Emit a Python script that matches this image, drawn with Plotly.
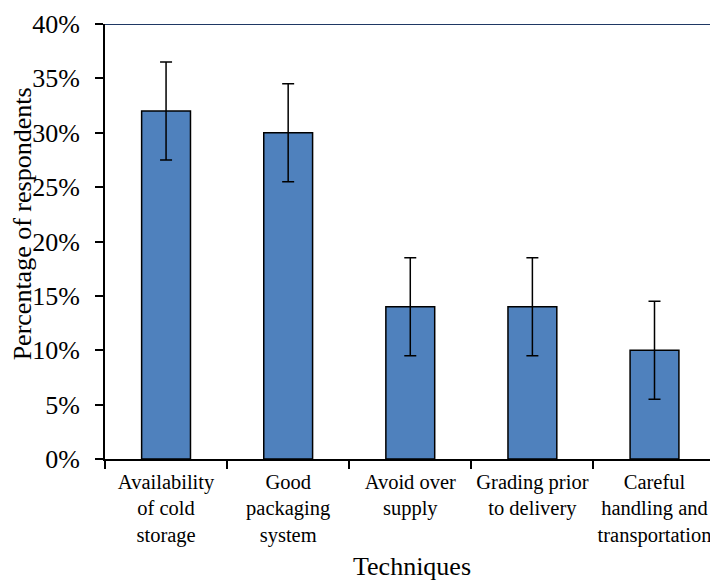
import plotly.graph_objects as go

categories = ["Availability<br>of cold<br>storage", "Good<br>packaging<br>system",
              "Avoid over<br>supply", "Grading prior<br>to delivery",
              "Careful<br>handling and<br>transportation"]
values = [32, 30, 14, 14, 10]
errors = [4.5, 4.5, 4.5, 4.5, 4.5]
y_ticks = [0, 5, 10, 15, 20, 25, 30, 35, 40]
y_tick_labels = [f"{v}%" for v in y_ticks]

FONT = "Liberation Serif, Times New Roman, serif"

fig = go.Figure()
fig.add_trace(go.Bar(
    x=categories, y=values, width=0.4,
    marker=dict(color="#4F81BD", line=dict(color="#000000", width=1.5)),
    error_y=dict(type="data", array=errors, visible=True, color="#000000",
                 thickness=1.5, width=6),
))

fig.add_shape(type="line", xref="paper", yref="y", x0=0, x1=1, y0=40, y1=40,
              line=dict(color="#1F3864", width=2))

fig.update_layout(
    width=710, height=572,
    margin=dict(l=97, r=0, t=16, b=121),
    plot_bgcolor="white", paper_bgcolor="white",
    font=dict(family=FONT, color="#000000"),
    showlegend=False,
    xaxis=dict(
        range=[-0.5, 4.52], automargin=False,
        tickson="boundaries", ticks="outside", ticklen=8, tickwidth=1.5, tickcolor="#000",
        showline=True, linecolor="#000", linewidth=2,
        tickfont=dict(size=20.5, family=FONT),
        ticklabelstandoff=3,
        tickangle=0,
        showgrid=False,
    ),
    yaxis=dict(
        range=[0, 40], tickvals=y_ticks, ticktext=y_tick_labels, automargin=False,
        ticks="outside", ticklen=8, tickwidth=1.5, tickcolor="#000",
        showline=True, linecolor="#000", linewidth=2,
        tickfont=dict(size=26, family=FONT),
        ticklabelstandoff=10,
        showgrid=False, zeroline=False,
    ),
    annotations=[
        dict(text="Percentage of respondents", xref="paper", yref="paper",
             x=-0.135, y=0.54, textangle=-90, showarrow=False,
             font=dict(size=26, family=FONT), xanchor="center", yanchor="middle"),
        dict(text="Techniques", xref="paper", yref="paper",
             x=0.5, y=-0.248, showarrow=False,
             font=dict(size=26, family=FONT), xanchor="center", yanchor="middle"),
    ],
)

fig.write_html("out.html")
